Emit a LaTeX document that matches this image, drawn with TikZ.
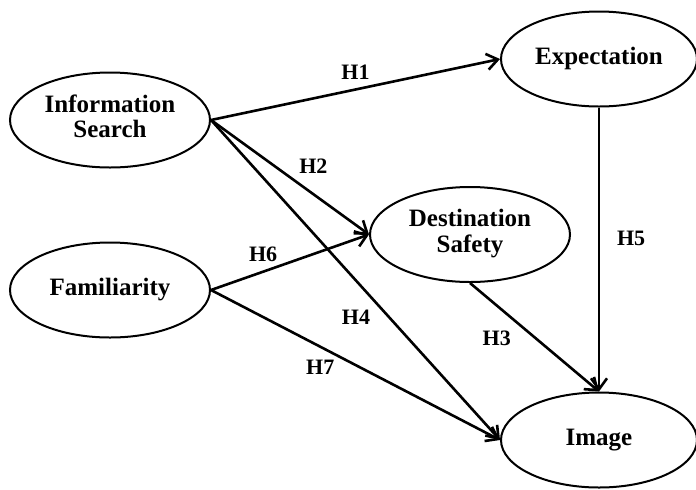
\documentclass[tikz,border=0pt]{standalone}
\usepackage{fontspec}
\setmainfont{Liberation Serif}
\usetikzlibrary{shapes, arrows.meta}

\newcommand{\construct}[1]{\makebox[0pt]{\begin{tabular}{@{}c@{}}#1\end{tabular}}}

\begin{document}
\begin{tikzpicture}
  [
    x = 0.5pt, y = -0.5pt,
    every node/.style = {draw, ellipse, line width = 1pt, inner sep = 0pt,
                         minimum width = 100pt, minimum height = 47.5pt,
                         font = \bfseries\fontsize{12.5}{12.5}\selectfont},
    hyp/.style = {line width = 1.3pt, -{Straight Barb[length=5.5pt, width=8pt]}}
  ]
  \useasboundingbox (0,0) rectangle (696,489);
  \node (Search) at (110,120)   {\construct{Information\\Search}};
  \node (Famil)  at (110,290)   {\construct{Familiarity}};
  \node (Expect) [minimum width = 98pt] at (599,59)  {\construct{Expectation}};
  \node (Safety) at (470,234.5) {\construct{Destination\\Safety}};
  \node (Image)  [minimum width = 98pt] at (599,440) {\construct{Image}};

  \draw [hyp] (Search.east) -- (Expect.west);
  \draw [hyp] (Search.east) -- (Safety.west);
  \draw [hyp] (Search.east) -- (Image.west);
  \draw [hyp] (Famil.east)  -- (Safety.west);
  \draw [hyp] (Famil.east)  -- (Image.west);
  \draw [hyp] (Safety.south) -- (Image.north);
  \draw [hyp] (Expect.south) -- (Image.north);

  \begin{scope}[nodes = {draw = none, rectangle, minimum width = 0pt, minimum height = 0pt,
                         inner sep = 1pt, font = \bfseries\fontsize{11}{12}\selectfont}]
    \path (Search.east) -- (Expect.west) node [pos = 0.5, above = 3.6pt] (H1) {H1};
    \path (Search.east) -- (Safety.west) node [pos = 0.52, above right = 1.6pt] (H2) {H2};
    \path (Safety.south) -- (Image.north) node [pos = 0.507, left = 10.8pt] (H3) {H3};
    \path (Search.east) -- (Image.west) node [pos = 0.616, left = 8pt] (H4) {H4};
    \path (Expect.south) -- (Image.north) node [pos = 0.46, right = 7.5pt] (H5) {H5};
    \path (Famil.east) -- (Safety.west) node [pos = 0.33, above = 3.6pt] (H6) {H6};
    \path (Famil.east) -- (Image.west) node [pos = 0.378, below = 5.4pt] (H7) {H7};
  \end{scope}
\end{tikzpicture}
\end{document}
